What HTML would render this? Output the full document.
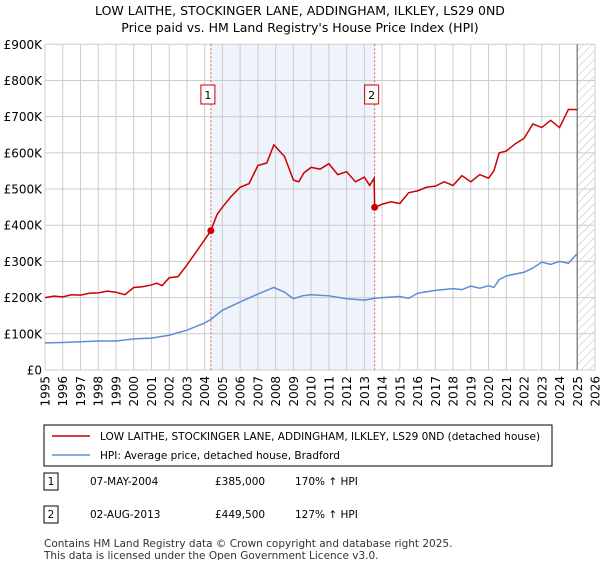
<!DOCTYPE html>
<html><head><meta charset="utf-8"><style>
body{margin:0;background:#fff;font-family:"Liberation Sans","DejaVu Sans",sans-serif;}
svg text{font-family:"DejaVu Sans","Liberation Sans",sans-serif;}
</style></head><body>
<svg id="chart" width="600" height="560" xmlns="http://www.w3.org/2000/svg">
<defs><pattern id="hatch" width="6" height="6" patternUnits="userSpaceOnUse" patternTransform="rotate(45)"><line x1="0" y1="0" x2="0" y2="6" stroke="#bbb" stroke-width="1"/></pattern></defs>
<text x="300" y="15" text-anchor="middle" font-size="12.5">LOW LAITHE, STOCKINGER LANE, ADDINGHAM, ILKLEY, LS29 0ND</text>
<text x="300" y="32" text-anchor="middle" font-size="12.5">Price paid vs. HM Land Registry's House Price Index (HPI)</text>
<g id="plot"></g>
<g>
<rect x="44" y="425" width="508" height="41" fill="#fff" stroke="#000" stroke-width="1"/>
<line x1="52" y1="436" x2="90" y2="436" stroke="#cc0000" stroke-width="1.5"/>
<text x="100" y="440" font-size="10.5">LOW LAITHE, STOCKINGER LANE, ADDINGHAM, ILKLEY, LS29 0ND (detached house)</text>
<line x1="52" y1="455" x2="90" y2="455" stroke="#5b8fd4" stroke-width="1.5"/>
<text x="100" y="459" font-size="10.5">HPI: Average price, detached house, Bradford</text>
</g>
<g font-size="10.5">
<rect x="44" y="473" width="14" height="17" fill="#fff" stroke="#000"/><text x="51" y="485" text-anchor="middle">1</text>
<text x="90" y="485">07-MAY-2004</text><text x="215" y="485">£385,000</text><text x="295" y="485">170% ↑ HPI</text>
<rect x="44" y="506" width="14" height="17" fill="#fff" stroke="#000"/><text x="51" y="518" text-anchor="middle">2</text>
<text x="90" y="518">02-AUG-2013</text><text x="215" y="518">£449,500</text><text x="295" y="518">127% ↑ HPI</text>
</g>
<text x="44" y="547" font-size="10.5" fill="#333">Contains HM Land Registry data © Crown copyright and database right 2025.</text>
<text x="44" y="559" font-size="10.5" fill="#333">This data is licensed under the Open Government Licence v3.0.</text>
</svg>
<script>
const yTicks=[0,100,200,300,400,500,600,700,800,900];
const yTickLabels=["£0","£100K","£200K","£300K","£400K","£500K","£600K","£700K","£800K","£900K"];
const xYears=[1995,1996,1997,1998,1999,2000,2001,2002,2003,2004,2005,2006,2007,2008,2009,2010,2011,2012,2013,2014,2015,2016,2017,2018,2019,2020,2021,2022,2023,2024,2025,2026];
const saleDates=[2004.35,2013.58];
const saleValues=[385,449.5];
const redT=[1995,1995.5,1996,1996.5,1997,1997.5,1998,1998.5,1999,1999.5,2000,2000.5,2001,2001.3,2001.6,2002,2002.5,2003,2003.5,2004,2004.35,2004.7,2005,2005.5,2006,2006.5,2007,2007.5,2007.9,2008.5,2009,2009.3,2009.6,2010,2010.5,2011,2011.5,2012,2012.5,2013,2013.3,2013.55,2013.58,2014,2014.5,2015,2015.5,2016,2016.5,2017,2017.5,2018,2018.5,2019,2019.5,2020,2020.3,2020.6,2021,2021.5,2022,2022.5,2023,2023.5,2024,2024.5,2025];
const redV=[200,204,202,208,207,212,213,218,215,208,228,230,235,240,233,255,258,290,325,360,385,430,450,480,505,515,565,572,622,590,525,520,545,560,555,570,540,548,520,533,510,530,449.5,458,465,460,490,495,505,508,520,510,537,520,540,530,550,600,605,625,640,680,670,690,670,720,720];
const blueT=[1995,1996,1997,1998,1999,2000,2001,2002,2003,2004,2004.35,2005,2006,2007,2007.9,2008.5,2009,2009.5,2010,2011,2012,2013,2013.58,2014,2015,2015.5,2016,2017,2018,2018.5,2019,2019.5,2020,2020.3,2020.6,2021,2022,2022.5,2023,2023.5,2024,2024.5,2025];
const blueV=[75,76,78,80,80,86,88,96,110,130,140,165,188,210,228,215,197,205,208,205,197,193,198,200,203,198,212,220,225,222,232,226,233,228,250,260,270,282,298,292,300,295,322];
const L=45,R=595,T=44.3,B=370;
const X=t=>L+(t-1995)*(R-L)/31;
const Y=v=>B-v*(B-T)/900;
const NS="http://www.w3.org/2000/svg";
const g=document.getElementById('plot');
function el(tag,a,parent){const e=document.createElementNS(NS,tag);for(const k in a)e.setAttribute(k,a[k]);(parent||g).appendChild(e);return e;}
let r=el('rect',{x:X(saleDates[0]),y:T,width:X(saleDates[1])-X(saleDates[0]),height:B-T,fill:'#eef3fc'});


let h=el('rect',{x:X(2025),y:T,width:R-X(2025),height:B-T,fill:'url(#hatch)'});


yTicks.forEach((v,i)=>{
 let l=el('line',{x1:L,x2:R,y1:Y(v),y2:Y(v),stroke:'#cccccc','stroke-width':1});
 
 
 let t=el('text',{x:L-3,y:Y(v)+4.5,'text-anchor':'end','font-size':12});
 
 
 t.textContent=yTickLabels[i];
});
xYears.forEach(yr=>{
 let l=el('line',{x1:X(yr),x2:X(yr),y1:T,y2:B,stroke:'#cccccc','stroke-width':1});
 
 
 let t=el('text',{x:0,y:0,'text-anchor':'end','font-size':12,transform:'translate('+(X(yr)+4.5)+',376) rotate(-90)'});
 
 
 t.textContent=yr;
});
let ed=el('line',{x1:X(2025),x2:X(2025),y1:T,y2:B,stroke:'#888','stroke-width':1.5});


saleDates.forEach((d,i)=>{
 let l=el('line',{x1:X(d),x2:X(d),y1:T,y2:B,stroke:'#ee5555','stroke-width':1,'stroke-dasharray':'2,2'});
 
 
 let b=el('rect',{x:X(d)-10,y:85,width:14,height:19,fill:'#fff',stroke:'#cc0000'});
 
 
 let t=el('text',{x:X(d)-3,y:99,'text-anchor':'middle','font-size':11});
 
 
 t.textContent=String(i+1);
});
let bp=el('polyline',{points:blueT.map((t,i)=>X(t)+','+Y(blueV[i])).join(' '),fill:'none',stroke:'#5b8fd4','stroke-width':1.5});


let rp=el('polyline',{points:redT.map((t,i)=>X(t)+','+Y(redV[i])).join(' '),fill:'none',stroke:'#cc0000','stroke-width':1.5});


saleDates.forEach((d,i)=>{
 let c=el('circle',{cx:X(d),cy:Y(saleValues[i]),r:3.5,fill:'#cc0000'});
 
 
});
</script>
</body></html>
